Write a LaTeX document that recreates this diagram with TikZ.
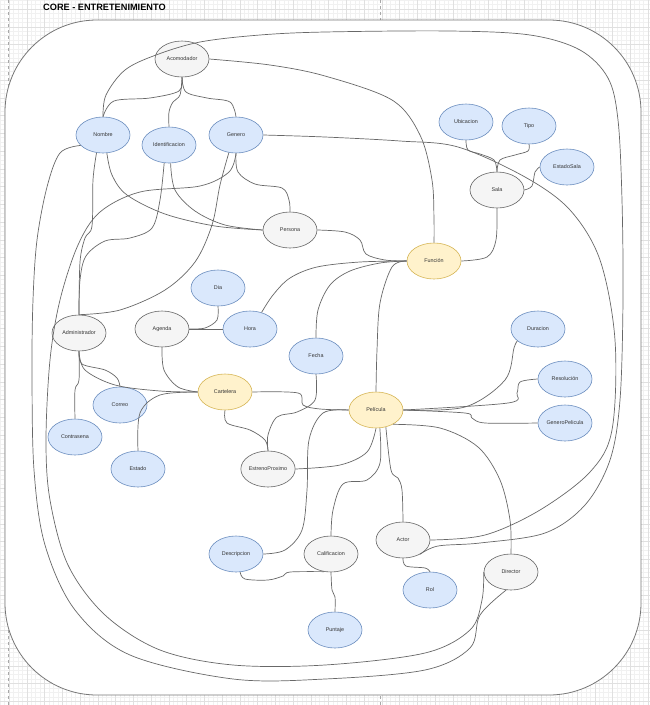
\documentclass[tikz,border=0pt]{standalone}
\usepackage{fontspec}
\setmainfont{Liberation Sans}
\usetikzlibrary{shapes.geometric}

\definecolor{blueF}{HTML}{DAE8FC}
\definecolor{blueS}{HTML}{6C8EBF}
\definecolor{grayF}{HTML}{F5F5F5}
\definecolor{grayS}{HTML}{666666}
\definecolor{yelF}{HTML}{FFF2CC}
\definecolor{yelS}{HTML}{D6B656}
\definecolor{txt}{HTML}{333333}
\definecolor{edgeC}{HTML}{686868}
\definecolor{boxC}{HTML}{777777}
\definecolor{minorC}{HTML}{F1F1F1}
\definecolor{majorC}{HTML}{E0E0E0}
\definecolor{pageC}{HTML}{A8A8A8}

\tikzset{
  attr/.style={ellipse, draw=blueS, fill=blueF, minimum width=54pt, minimum height=36pt,
    inner sep=0pt, line width=0.6pt, font=\fontsize{5.4}{6}\selectfont, text=txt},
  ent/.style={attr, draw=grayS, fill=grayF},
  rel/.style={attr, draw=yelS, fill=yelF},
  link/.style={draw=edgeC, line width=0.7pt},
  curve/.style={smooth, tension=0.55},
}

\begin{document}
\begin{tikzpicture}[x=1pt, y=-1pt]
\useasboundingbox (0,0) rectangle (650,705);

% drawing grid
\foreach \i in {-2,...,145} \draw[minorC, line width=0.4pt] ({9+\i*4.4375},0) -- ({9+\i*4.4375},705);
\foreach \i in {-2,...,158} \draw[minorC, line width=0.4pt] (0,{9+\i*4.4375}) -- (650,{9+\i*4.4375});
\foreach \i in {-1,...,36} \draw[majorC, line width=0.5pt] ({9+\i*17.75},0) -- ({9+\i*17.75},705);
\foreach \i in {-1,...,39} \draw[majorC, line width=0.5pt] (0,{9+\i*17.75}) -- (650,{9+\i*17.75});
% page breaks
\draw[pageC, dashed, line width=0.5pt] (8,0) -- (8,705);
\draw[pageC, dashed, line width=0.5pt] (380,0) -- (380,705);

% container
\draw[draw=boxC, fill=white, line width=0.8pt, rounded corners=92pt] (5,20) rectangle (641,695);
\node[font=\fontsize{9.2}{11}\selectfont\bfseries, anchor=west, inner sep=0pt] (title) at (43,7.5) {CORE - ENTRETENIMIENTO};

% entities, relations and attributes
\node[ent]  (acom)      at (182,59)  {Acomodador};
\node[attr] (nombre)    at (103,135) {Nombre};
\node[attr] (ident)     at (169,145) {Identificacion};
\node[attr] (genero)    at (236,135) {Genero};
\node[ent]  (persona)   at (290,230) {Persona};
\node[rel]  (funcion)   at (434,261) {Función};
\node[attr] (ubic)      at (466,122) {Ubicacion};
\node[attr] (tipo)      at (529,126) {Tipo};
\node[attr] (estsala)   at (567,167) {EstadoSala};
\node[ent]  (sala)      at (497,190) {Sala};
\node[attr] (dia)       at (218,288) {Dia};
\node[ent]  (agenda)    at (162,329) {Agenda};
\node[attr] (hora)      at (250,329) {Hora};
\node[ent]  (admin)     at (79,333)  {Administrador};
\node[attr] (fecha)     at (316,356) {Fecha};
\node[rel]  (cartelera) at (225,392) {Cartelera};
\node[attr] (correo)    at (120,405) {Correo};
\node[attr] (contra)    at (75,437)  {Contrasena};
\node[attr] (estado)    at (138,469) {Estado};
\node[ent]  (estreno)   at (268,469) {EstrenoProximo};
\node[rel]  (pelicula)  at (376,410) {Película};
\node[attr] (duracion)  at (538,329) {Duracion};
\node[attr] (resol)     at (565,379) {Resolución};
\node[attr] (genpel)    at (565,423) {GeneroPelicula};
\node[attr] (desc)      at (236,554) {Descripcion};
\node[ent]  (calif)     at (331,554) {Calificacion};
\node[ent]  (actor)     at (403,540) {Actor};
\node[attr] (rol)       at (430,590) {Rol};
\node[ent]  (director)  at (511,572) {Director};
\node[attr] (puntaje)   at (335,630) {Puntaje};

% Acomodador
\draw[link] plot[curve] coordinates {(acom.south) (179,91) (150,98) (114,101) (nombre.north)};
\draw[link] plot[curve] coordinates {(acom.south) (180,95) (173,102) (169,112) (ident.north)};
\draw[link] plot[curve] coordinates {(acom.south) (186,92) (207,98) (230,102) (genero.north)};
\draw[link] plot[curve] coordinates {(acom.east) (270,65) (325,76) (392,100) (420,135) (432,180) (434,220) (funcion.north)};

% shared person attributes
\draw[link] plot[curve] coordinates {(nombre.north) (106,95) (125,70) (156,55) (200,42) (260,35) (325,32) (450,31) (530,35) (580,50) (608,78) (618,120) (622,200) (623,300) (620,400) (610,460) (585,505) (545,533) (480,543) (438,546) (actor.-40)};
\draw[link] plot[curve] coordinates {(genero.east) (325,137) (400,141) (458,147) (525,177) (570,210) (600,260) (615,340) (612,430) (590,472) (540,510) (485,535) (actor.east)};
\draw[link] plot[curve] coordinates {(nombre.-155) (60,153) (47,187) (37,240) (33,300) (32,373) (34,470) (45,545) (75,610) (130,655) (233,679) (325,679) (425,670) (470,648) (480,615) (director.-105)};
\draw[link] plot[curve] coordinates {(genero.south) (229,172) (200,186) (140,192) (100,212) (78,245) (60,300) (50,360) (46,440) (50,500) (68,565) (105,615) (160,650) (233,665) (325,665) (425,653) (470,630) (482,600) (director.west)};
\draw[link] plot[curve] coordinates {(nombre.-110) (93,180) (92,226) (85,238) (80,262) (admin.north)};
\draw[link] plot[curve] coordinates {(nombre.-78) (112,175) (127,195) (165,214) (215,226) (persona.west)};
\draw[link] plot[curve] coordinates {(ident.-85) (175,190) (195,211) (225,225) (persona.west)};
\draw[link] plot[curve] coordinates {(ident.-105) (160,200) (152,228) (130,238) (105,241) (86,256) (80,280) (admin.north)};
\draw[link] plot[curve] coordinates {(genero.south) (238,172) (255,184) (282,188) (289,200) (persona.north)};
\draw[link] plot[curve] coordinates {(genero.-112) (220,185) (212,225) (195,262) (165,290) (120,310) (admin.north)};

% Función
\draw[link] plot[curve] coordinates {(persona.east) (345,232) (360,240) (366,254) (385,260) (funcion.west)};
\draw[link] plot[curve] coordinates {(hora.55) (273,295) (290,278) (317,267) (360,262) (funcion.west)};
\draw[link] plot[curve] coordinates {(fecha.north) (318,310) (330,285) (350,271) (380,263) (funcion.west)};
\draw[link] plot[curve] coordinates {(pelicula.north) (377,350) (380,303) (392,267) (funcion.west)};
\draw[link] plot[curve] coordinates {(funcion.east) (487,257) (496,240) (sala.south)};

% Sala
\draw[link] plot[curve] coordinates {(sala.north) (494,160) (480,154) (468,150) (ubic.south)};
\draw[link] plot[curve] coordinates {(sala.north) (500,160) (515,155) (528,151) (tipo.south)};
\draw[link] plot[curve] coordinates {(sala.east) (532,186) (535,172) (estsala.west)};

% Agenda, Administrador, Cartelera
\draw[link] plot[curve] coordinates {(dia.south) (217,320) (205,328) (agenda.east)};
\draw[link] (agenda.east) -- (hora.west);
\draw[link] plot[curve] coordinates {(agenda.south) (164,370) (178,387) (cartelera.west)};
\draw[link] plot[curve] coordinates {(admin.south) (82,364) (105,370) (117,378) (correo.north)};
\draw[link] plot[curve] coordinates {(admin.south) (85,370) (115,385) (160,391) (cartelera.west)};
\draw[link] plot[curve] coordinates {(admin.south) (79,380) (75,390) (contra.north)};
\draw[link] plot[curve] coordinates {(estado.north) (140,413) (160,395) (cartelera.west)};
\draw[link] plot[curve] coordinates {(cartelera.south) (227,423) (250,430) (265,440) (estreno.north)};
\draw[link] plot[curve] coordinates {(fecha.south) (315,400) (297,412) (277,417) (268,435) (estreno.north)};
\draw[link] plot[curve] coordinates {(cartelera.east) (298,393) (303,405) (320,409) (pelicula.west)};

% Película
\draw[link] plot[curve] coordinates {(pelicula.west) (323,413) (309,440) (307,490) (302,530) (285,550) (desc.east)};
\draw[link] plot[curve] coordinates {(estreno.east) (340,465) (367,452) (pelicula.south)};
\draw[link] plot[curve] coordinates {(pelicula.-78) (380,463) (367,480) (343,484) (333,510) (calif.north)};
\draw[link] plot[curve] coordinates {(pelicula.-60) (391,470) (398,478) (402,490) (actor.north)};
\draw[link] plot[curve] coordinates {(pelicula.east) (465,407) (505,380) (514,348) (duracion.-150)};
\draw[link] plot[curve] coordinates {(pelicula.east) (508,403) (517,393) (520,382) (resol.west)};
\draw[link] plot[curve] coordinates {(pelicula.east) (465,413) (472,418) (485,423) (genpel.west)};
\draw[link] plot[curve] coordinates {(pelicula.-40) (440,428) (478,447) (500,480) (510,520) (director.north)};

% Calificación, Actor
\draw[link] plot[curve] coordinates {(calif.-112) (290,572) (283,576) (268,580) (245,579) (desc.-77)};
\draw[link] plot[curve] coordinates {(calif.south) (332,590) (335,597) (puntaje.north)};
\draw[link] plot[curve] coordinates {(actor.south) (406,566) (425,568) (rol.north)};
\end{tikzpicture}
\end{document}
